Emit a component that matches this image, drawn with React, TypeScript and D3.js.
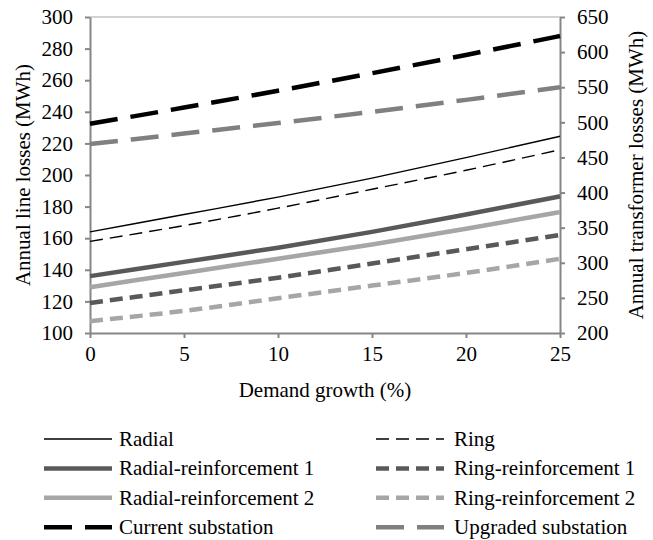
import { useEffect, useRef } from 'react';
import * as d3 from 'd3';

// demand growth (%) on x
const growth = [0, 5, 10, 15, 20, 25];

// line losses (MWh), left axis
const radial = [164, 175, 186, 198, 211, 224.5];
const ring = [158, 168, 179, 191, 203, 216];
const radialReinf1 = [136, 145, 154, 164, 175, 186.5];
const radialReinf2 = [129, 138, 147, 156, 166, 176.5];
const ringReinf1 = [119, 127, 135, 144, 153, 162];
const ringReinf2 = [107.5, 114, 122, 130, 138, 147];

// transformer losses (MWh), right axis
const currentSub = [498, 521, 545, 570, 596, 623];
const upgradedSub = [469, 484, 499, 515, 532, 550];

const leftTicks = [100, 120, 140, 160, 180, 200, 220, 240, 260, 280, 300];
const rightTicks = [200, 250, 300, 350, 400, 450, 500, 550, 600, 650];
const xTicks = [0, 5, 10, 15, 20, 25];

const series = [
  { name: 'Radial', values: radial, axis: 'left', color: '#000000', width: 1.4, dash: null },
  { name: 'Ring', values: ring, axis: 'left', color: '#000000', width: 1.4, dash: '13,7' },
  { name: 'Radial-reinforcement 1', values: radialReinf1, axis: 'left', color: '#595959', width: 4.5, dash: null },
  { name: 'Ring-reinforcement 1', values: ringReinf1, axis: 'left', color: '#595959', width: 4.5, dash: '13,7' },
  { name: 'Radial-reinforcement 2', values: radialReinf2, axis: 'left', color: '#a6a6a6', width: 4.5, dash: null },
  { name: 'Ring-reinforcement 2', values: ringReinf2, axis: 'left', color: '#a6a6a6', width: 4.5, dash: '13,7' },
  { name: 'Current substation', values: currentSub, axis: 'right', color: '#000000', width: 4.5, dash: '28,13' },
  { name: 'Upgraded substation', values: upgradedSub, axis: 'right', color: '#808080', width: 4.5, dash: '28,13' },
];

const FONT = 'Liberation Serif, Tinos, Times New Roman, DejaVu Serif, serif';

export default function App() {
  const svgRef = useRef(null);

  useEffect(() => {
    const width = 653;
    const height = 540;
    const margin = { top: 17, right: 93, bottom: 207, left: 90 };
    const axisColor = '#868686';

    const svg = d3.select(svgRef.current);
    svg.selectAll('*').remove();
    svg.attr('width', width).attr('height', height)
      .attr('font-family', FONT);

    const x0 = margin.left;
    const x1 = width - margin.right;
    const y0 = height - margin.bottom;
    const y1 = margin.top;

    const xScale = d3.scaleLinear().domain([0, 25]).range([x0, x1]);
    const yLeft = d3.scaleLinear().domain([100, 300]).range([y0, y1]);
    const yRight = d3.scaleLinear().domain([200, 650]).range([y0, y1]);

    // top border of plot area
    svg.append('line')
      .attr('x1', x0).attr('x2', x1)
      .attr('y1', y1).attr('y2', y1)
      .attr('stroke', '#a6a6a6')
      .attr('stroke-width', 1);

    const styleAxis = (g) => {
      g.attr('font-family', FONT).attr('font-size', 21);
      g.select('.domain').attr('stroke', axisColor).attr('stroke-width', 2);
      g.selectAll('.tick line').attr('stroke', axisColor).attr('stroke-width', 2);
      g.selectAll('.tick text').attr('fill', '#000');
    };

    svg.append('g')
      .attr('transform', `translate(${x0},0)`)
      .call(d3.axisLeft(yLeft).tickValues(leftTicks).tickSize(5).tickSizeOuter(0).tickPadding(12))
      .call(styleAxis);

    svg.append('g')
      .attr('transform', `translate(${x1},0)`)
      .call(d3.axisRight(yRight).tickValues(rightTicks).tickSize(5).tickSizeOuter(0).tickPadding(12))
      .call(styleAxis);

    svg.append('g')
      .attr('transform', `translate(0,${y0})`)
      .call(d3.axisBottom(xScale).tickValues(xTicks).tickSize(5).tickSizeOuter(0).tickPadding(8))
      .call(styleAxis);

    // lines
    series.forEach(s => {
      const yScale = s.axis === 'left' ? yLeft : yRight;
      const line = d3.line()
        .x((d, i) => xScale(growth[i]))
        .y(d => yScale(d))
        .curve(d3.curveMonotoneX);
      svg.append('path')
        .datum(s.values)
        .attr('d', line)
        .attr('fill', 'none')
        .attr('stroke', s.color)
        .attr('stroke-width', s.width)
        .attr('stroke-dasharray', s.dash)
        .attr('stroke-linecap', 'butt');
    });

    // axis titles
    svg.append('text')
      .attr('transform', `translate(30,${(y0 + y1) / 2}) rotate(-90)`)
      .attr('text-anchor', 'middle')
      .attr('font-size', 21)
      .text('Annual line losses (MWh)');

    svg.append('text')
      .attr('transform', `translate(643,${(y0 + y1) / 2}) rotate(-90)`)
      .attr('text-anchor', 'middle')
      .attr('font-size', 21)
      .text('Annual transformer losses (MWh)');

    svg.append('text')
      .attr('x', (x0 + x1) / 2)
      .attr('y', 397)
      .attr('text-anchor', 'middle')
      .attr('font-size', 21)
      .text('Demand growth (%)');

    // legend, two columns
    const colX = [44, 376];
    const lineLen = 68;
    series.forEach((s, i) => {
      const col = i % 2;
      const row = Math.floor(i / 2);
      const cy = 439 + row * 29.4;
      const lx = colX[col];
      svg.append('line')
        .attr('x1', lx).attr('x2', lx + lineLen)
        .attr('y1', cy).attr('y2', cy)
        .attr('stroke', s.color)
        .attr('stroke-width', s.width)
        .attr('stroke-dasharray', s.dash);
      svg.append('text')
        .attr('x', lx + lineLen + (col === 0 ? 7 : 10))
        .attr('y', cy + 7)
        .attr('font-size', 21)
        .text(s.name);
    });
  }, []);

  return (
    <div style={{ position: 'absolute', left: 0, top: 0, background: 'white' }}>
      <svg ref={svgRef}></svg>
    </div>
  );
}
